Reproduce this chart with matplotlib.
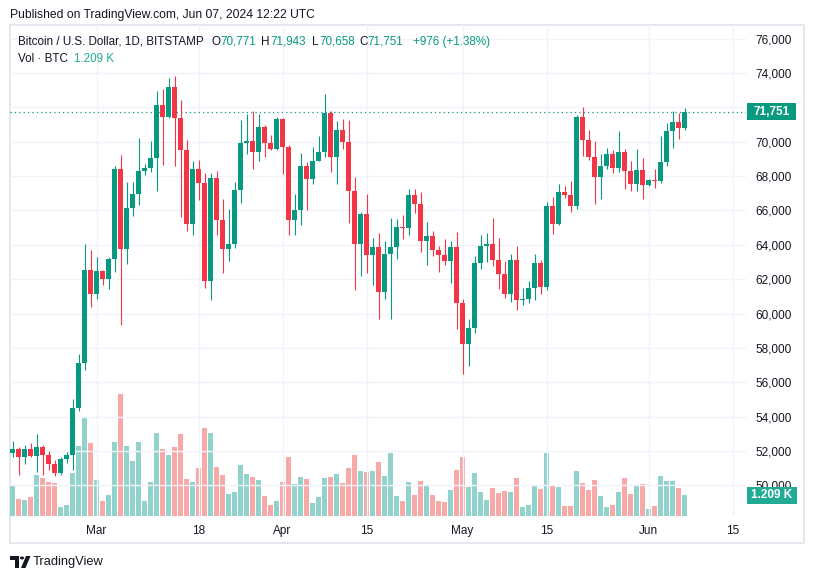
import numpy as np
import pandas as pd
import matplotlib
matplotlib.use("Agg")
import matplotlib.pyplot as plt
from matplotlib.patches import Rectangle, Polygon, Circle
from matplotlib.transforms import blended_transform_factory

# daily candles, BITSTAMP BTC/USD, first bar 2024-02-16
start_date = "2024-02-16"

opens = [51870, 52140, 51630, 52140, 51710, 52260, 51790, 51230, 50700, 51560,
         51750, 54510, 57110, 62520, 61120, 62460, 61990, 63160, 68410, 63740,
         66130, 66950, 68290, 68470, 69050, 72140, 71440, 73190, 71400, 69520,
         65200, 68410, 67590, 61880, 67880, 65430, 63780, 64020, 67210, 69920,
         70040, 69400, 70830, 69900, 69580, 71320, 69710, 65430, 66010, 68580,
         67830, 68900, 69380, 71670, 69110, 70680, 69990, 67120, 64030, 65780,
         63420, 63860, 61230, 63480, 63860, 65020, 64970, 66890, 66370, 64210,
         64500, 63680, 63390, 63040, 63860, 60590, 58200, 59130, 62930, 63920,
         64030, 63100, 62280, 61120, 63100, 60770, 60830, 61470, 62930, 61530,
         66250, 65200, 67070, 66890, 66250, 71440, 70100, 69110, 67940, 68580,
         69280, 68470, 69400, 68290, 67530, 68350, 67470, 67760, 67710, 68820,
         70620, 71150, 70771]
highs = [52600, 52220, 52370, 52490, 53010, 52370, 52020, 51500, 51670, 51960,
         55000, 57620, 64030, 63680, 63280, 62520, 63280, 68580, 69220, 67650,
         67650, 70220, 68700, 70040, 72960, 73070, 73710, 73830, 72430, 70100,
         68870, 68930, 68170, 68170, 68290, 66660, 66070, 67650, 71260, 71620,
         71790, 71620, 70970, 70390, 71440, 71400, 69800, 66950, 69340, 68820,
         69690, 70330, 72780, 71790, 71210, 71320, 71260, 67940, 65900, 66950,
         64380, 64680, 64210, 65550, 65490, 65720, 67240, 67240, 67070, 65320,
         64790, 63920, 64330, 64210, 64730, 60830, 59660, 63330, 64560, 64680,
         65550, 64380, 63040, 63450, 63920, 61470, 61880, 63450, 63100, 66480,
         66770, 67530, 67420, 67710, 71560, 72020, 70680, 70040, 69280, 69630,
         69520, 70620, 69570, 68870, 69570, 69050, 67820, 68410, 70330, 71090,
         71790, 71670, 71943]
lows = [51630, 50620, 51230, 51670, 50760, 50620, 50910, 50520, 50580, 51280,
        50910, 54300, 56740, 60360, 60830, 61640, 61410, 62400, 59310, 62870,
        65670, 66310, 68060, 68230, 67120, 68640, 71380, 68580, 65610, 64790,
        64560, 66600, 61470, 60770, 64560, 62340, 63040, 63800, 66420, 69280,
        68410, 68870, 69110, 69500, 69500, 68120, 64560, 64560, 65140, 66020,
        67530, 68850, 69110, 68230, 67530, 69570, 65260, 61350, 62170, 62340,
        61640, 59660, 60830, 59660, 63160, 64330, 64560, 65840, 63570, 62810,
        63330, 62400, 62810, 61760, 59080, 56510, 56920, 58840, 62580, 62980,
        62750, 61410, 60880, 60650, 60180, 60480, 60590, 60770, 61120, 61350,
        64620, 65140, 66720, 65900, 66070, 69170, 68930, 66370, 66660, 68400,
        68170, 68230, 67240, 67120, 67120, 66660, 67420, 67300, 67590, 68580,
        69630, 70160, 70658]
closes = [52140, 51630, 52140, 51710, 52260, 51790, 51230, 50700, 51560, 51750,
          54510, 57110, 62520, 61120, 62460, 61990, 63160, 68410, 63740, 66130,
          66950, 68290, 68470, 69050, 72140, 71440, 73190, 71400, 69520, 65200,
          68410, 67590, 61880, 67880, 65430, 63780, 64020, 67210, 69920, 70040,
          69400, 70830, 69900, 69580, 71320, 69710, 65430, 66010, 68580, 67830,
          68900, 69380, 71670, 69110, 70680, 69990, 67120, 64030, 65780, 63390,
          63860, 61230, 63480, 63860, 65020, 64970, 66890, 66370, 64210, 64500,
          63680, 63390, 63040, 63860, 60590, 58200, 59130, 62930, 63920, 64030,
          63100, 62280, 61120, 63100, 60770, 60830, 61470, 62930, 61530, 66250,
          65200, 67070, 66890, 66250, 71440, 70100, 69110, 67940, 68580, 69280,
          68470, 69400, 68290, 67530, 68350, 67470, 67760, 67710, 68820, 70620,
          71150, 70775, 71751]
volumes = [1727, 979, 921, 1094, 2360, 2188, 1957, 1900, 518, 633,
           2476, 4030, 5699, 4203, 2073, 864, 1209, 4260, 7024, 4030,
           3166, 4260, 864, 1957, 4778, 3857, 3512, 3972, 4721, 2130,
           1957, 2763, 5066, 4778, 2821, 2360, 1267, 1382, 2936, 2418,
           2245, 2073, 1151, 633, 864, 1957, 3397, 1842, 2245, 2130,
           748, 1094, 2188, 2245, 2418, 1900, 2763, 3512, 2591, 2533,
           2591, 3109, 2303, 3627, 1151, 864, 1957, 1209, 2015, 1785,
           1209, 864, 806, 1497, 2648, 3397, 1670, 2476, 1382, 921,
           1612, 1324, 1439, 1382, 2188, 518, 633, 1785, 1554, 3627,
           1727, 1670, 576, 576, 2591, 1900, 1497, 2073, 1151, 518,
           633, 1382, 2188, 1267, 1727, 1842, 403, 576, 2303, 2015,
           2015, 1612, 1209]

tick_dates = ["2024-03-01", "2024-03-18", "2024-04-01", "2024-04-15",
              "2024-05-01", "2024-05-15", "2024-06-01", "2024-06-15"]
tick_labels = ["Mar", "18", "Apr", "15", "May", "15", "Jun", "15"]
price_ticks = list(range(50000, 76001, 2000))

W, H = 813, 579
UP, DOWN = "#089981", "#f23645"
VOL_UP, VOL_DOWN = "#92d2cc", "#f7a9a7"
TXT = "#131722"
GRID = "#f0f3fa"

plt.rcParams["font.family"] = ["Liberation Sans", "DejaVu Sans"]


def fx(x):
    return x / W


def fy(y):
    return 1 - y / H


o = np.array(opens, float)
h = np.array(highs, float)
l = np.array(lows, float)
c = np.array(closes, float)
v = np.array(volumes, float)
dates = pd.date_range(start_date, periods=len(o), freq="D")
idx = np.arange(len(o))
up = c >= o
colors = np.where(up, UP, DOWN)
vcolors = np.where(up, VOL_UP, VOL_DOWN)

fig = plt.figure(figsize=(W / 100, H / 100), dpi=100)
fig.patch.set_facecolor("white")

ax = fig.add_axes([fx(10), fy(516), (746 - 10) / W, (516 - 25) / H])
ax_vol = ax.twinx()
ax.set_zorder(2)
ax_vol.set_zorder(1)
ax.patch.set_visible(False)

# volume
ax_vol.bar(idx, v, width=0.78, color=vcolors, linewidth=0)
vol_top = 491 * volumes[-1] / 21.0
ax_vol.set_ylim(0, vol_top)
ax_vol.set_yticks([])
for s in ax_vol.spines.values():
    s.set_visible(False)

# candles
ymin, ymax = 48217, 76792
ax.vlines(idx, l, h, color=colors, lw=0.8, zorder=3)
body = np.maximum(np.abs(c - o), 45)
ax.bar(idx, body, bottom=np.minimum(o, c), width=0.8, color=colors,
       linewidth=0, zorder=4)

ax.set_xlim(-0.42, 122.25)
ax.set_ylim(ymin, ymax)

tick_pos = [(pd.Timestamp(d) - dates[0]).days for d in tick_dates]
ax.set_xticks(tick_pos)
ax.set_xticklabels(tick_labels)
ax.set_yticks(price_ticks)
ax.set_yticklabels([f"{t:,}" for t in price_ticks])
ax.yaxis.tick_right()
ax.tick_params(axis="y", length=0, pad=6.5, labelsize=8.5, labelcolor=TXT)
ax.tick_params(axis="x", length=0, pad=6.5, labelsize=8.5, labelcolor=TXT)
ax.grid(True, color=GRID, lw=1)
ax.set_axisbelow(True)
for s in ax.spines.values():
    s.set_visible(False)

# last price line and labels
ax.axhline(c[-1], color=UP, lw=0.9, ls=(0, (1, 2.5)), zorder=2)
px_price = (ymax - ymin) / 491.0
px_ax = 1.0 / 736.0
tr_price = blended_transform_factory(ax.transAxes, ax.transData)
ax.add_patch(Rectangle((1 + px_ax, c[-1] - 8.5 * px_price), 49 * px_ax, 17 * px_price,
                       transform=tr_price, fc=UP, ec="none", clip_on=False, zorder=10))
ax.text(1 + 25.5 * px_ax, c[-1], f"{c[-1]:,.0f}", transform=tr_price, ha="center",
        va="center", color="white", fontsize=8.5, fontweight="bold", zorder=11,
        clip_on=False)

px_vol = vol_top / 491.0
tr_vol = blended_transform_factory(ax.transAxes, ax_vol.transData)
ax.add_patch(Rectangle((1 + px_ax, v[-1] - 8.5 * px_vol), 50 * px_ax, 17 * px_vol,
                       transform=tr_vol, fc="#22ab94", ec="none", clip_on=False, zorder=10))
ax.text(1 + 26 * px_ax, v[-1], f"{v[-1] / 1000:.3f} K", transform=tr_vol, ha="center",
        va="center", color="white", fontsize=8.5, fontweight="bold", zorder=11,
        clip_on=False)

# frame
fig.add_artist(Rectangle((fx(10), fy(543)), fx(804) - fx(10), fy(25) - fy(543),
                         transform=fig.transFigure, fill=False, ec="#e0e3eb", lw=1.2))

# header texts
fig.text(fx(10), fy(15), "Published on TradingView.com, Jun 07, 2024 12:22 UTC",
         fontsize=8.7, color=TXT, va="center")
fig.text(fx(18), fy(42), "Bitcoin / U.S. Dollar, 1D, BITSTAMP", fontsize=8.4,
         color=TXT, va="center")
chg = c[-1] - c[-2]
pct = chg / c[-2] * 100
for letter, val, x0, gap in [("O", o[-1], 211, 9.5), ("H", h[-1], 261, 9),
                             ("L", l[-1], 312, 7), ("C", c[-1], 359, 8.8)]:
    fig.text(fx(x0), fy(42), letter, fontsize=8.4, color=TXT, va="center")
    fig.text(fx(x0 + gap), fy(42), f"{val:,.0f}", fontsize=8.4, color=UP, va="center")
fig.text(fx(413), fy(42), f"{chg:+,.0f} ({pct:+.2f}%)", fontsize=8.4, color=UP,
         va="center")
fig.text(fx(18), fy(59), "Vol · BTC", fontsize=8.4, color=TXT, va="center")
fig.text(fx(74), fy(59), f"{v[-1] / 1000:.3f} K", fontsize=8.4, color="#22ab94",
         va="center")

# TradingView logo
fig.add_artist(Rectangle((fx(10), fy(560)), fx(19) - fx(10), fy(556) - fy(560),
                         transform=fig.transFigure, fc=TXT, ec="none"))
fig.add_artist(Rectangle((fx(14.5), fy(568)), fx(19) - fx(14.5), fy(556) - fy(568),
                         transform=fig.transFigure, fc=TXT, ec="none"))
fig.add_artist(Circle((fx(22), fy(558)), 2.1 / W, transform=fig.transFigure,
                      fc=TXT, ec="none"))
fig.add_artist(Polygon([(fx(21), fy(568)), (fx(25.5), fy(568)), (fx(30.5), fy(556)),
                        (fx(26), fy(556))], closed=True, transform=fig.transFigure,
                       fc=TXT, ec="none"))
fig.text(fx(33), fy(562), "TradingView", fontsize=9.3, color=TXT, va="center")

fig.savefig("out.png", dpi=100, facecolor="white")
